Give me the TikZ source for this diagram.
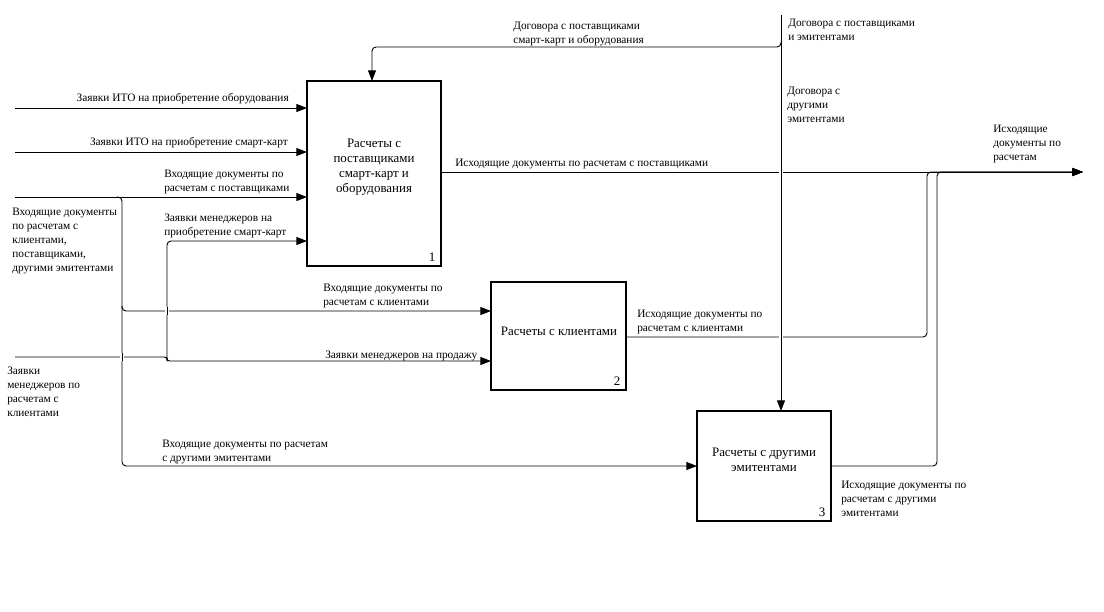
\documentclass[tikz,border=0pt]{standalone}
\usepackage{fontspec}
\setmainfont{Liberation Serif}
\usetikzlibrary{arrows.meta}
\begin{document}
\begin{tikzpicture}[x=0.75pt,y=-0.75pt,
  conn/.style={line width=0.7pt},
  arr/.style={conn,-{Triangle[length=8pt,width=6pt]}},
  bridge/.style={conn,preaction={draw=white,line width=3.5pt}},
  box/.style={draw,line width=1.8pt,inner sep=0,outer sep=0,fill=white},
  lbl/.style={font=\fontsize{8.5}{10.5}\selectfont,inner sep=0,align=left},
  btxt/.style={font=\fontsize{9.7}{11.25}\selectfont,inner sep=0,align=center},
  num/.style={font=\fontsize{9.7}{11}\selectfont,inner sep=0},
  rc/.style={rounded corners=3pt}]
\useasboundingbox[fill=white] (0,0) rectangle (1104,611);

% boxes (geometry)
\node[box,minimum width=100.5pt,minimum height=138.75pt] (b1) at (374,173.5) {};
\node[box,minimum width=101.25pt,minimum height=81pt] (b2) at (558.5,336) {};
\node[box,minimum width=100.5pt,minimum height=82.5pt] (b3) at (764,466) {};

% coordinates
\coordinate (i1) at (15,108);
\coordinate (i2) at (15,152);
\coordinate (i3) at (15,197);
\coordinate (i4) at (15,357);
\coordinate (jA) at (122,197);
\coordinate (jB) at (122,311);
\coordinate (jC) at (122,466);
\coordinate (jD) at (167,361);
\coordinate (jE) at (167,241);
\coordinate (c0) at (781,15);
\coordinate (c1) at (781,47);
\coordinate (c2) at (372,47);
\coordinate (o1) at (927,337);
\coordinate (o2) at (937,466);
\coordinate (out) at (1083,172);

% inputs
\draw[arr] (i1) -- (i1 -| b1.west);
\draw[arr] (i2) -- (i2 -| b1.west);
\draw[arr] (i3) -- (i3 -| b1.west);
\draw[arr,rc] ([xshift=-4pt]jA) -- (jA) -- (jC) -- (jC -| b3.west);
\draw[arr,rc] ([yshift=4pt]jB) -- (jB) -- (jB -| b2.west);
\draw[arr,rounded corners=2pt] (i4) -- (jD |- i4) -- (jD) -- (jD -| b2.west);
\draw[arr,rc] (jD) -- (jE) -- (jE -| b1.west);

% outputs
\draw[arr] (b1.east |- out) -- (out);
\draw[arr,rc] (b2.east |- o1) -- (o1) -- (o1 |- out) -- (out);
\draw[arr,rc] (b3.east |- o2) -- (o2) -- (o2 |- out) -- (out);

% controls
\draw[arr] (c0) -- (c0 |- b3.north);
\draw[arr,rc] ([yshift=4pt]c1) -- (c1) -- (c2) -- (c2 |- b1.north);

% crossings
\draw[bridge] ([yshift=3pt]jA |- i4) -- ([yshift=-3pt]jA |- i4);
\draw[bridge] ([yshift=3pt]jD |- jB) -- ([yshift=-3pt]jD |- jB);
\draw[bridge] ([yshift=3pt]c0 |- out) -- ([yshift=-3pt]c0 |- out);
\draw[bridge] ([yshift=3pt]c0 |- o1) -- ([yshift=-3pt]c0 |- o1);

% boxes redrawn on top
\node[box,minimum width=100.5pt,minimum height=138.75pt,fill=none] at (b1) {};
\node[box,minimum width=101.25pt,minimum height=81pt,fill=none] at (b2) {};
\node[box,minimum width=100.5pt,minimum height=82.5pt,fill=none] at (b3) {};

% box texts
\node[btxt] (bt1) at (374,167.5) {Расчеты с\\поставщиками\\смарт-карт и\\оборудования};
\node[btxt] (bt2) at (559,331) {Расчеты с клиентами};
\node[btxt] (bt3) at (764,459.5) {Расчеты с другими\\эмитентами};
\node[num,anchor=south east] (n1) at ([shift={(-4pt,3pt)}]b1.south east) {1};
\node[num,anchor=south east] (n2) at ([shift={(-4pt,3pt)}]b2.south east) {2};
\node[num,anchor=south east] (n3) at ([shift={(-4pt,3pt)}]b3.south east) {3};

% labels
\node[lbl,anchor=east] (t1) at (289,99) {Заявки ИТО на приобретение оборудования};
\node[lbl,anchor=east] (t2) at (288,143) {Заявки ИТО на приобретение смарт-карт};
\node[lbl,anchor=north west] (t3) at (164,170) {Входящие документы по\\расчетам с поставщиками};
\node[lbl,anchor=north west] (t4) at (12,208) {Входящие документы\\по расчетам с\\клиентами,\\поставщиками,\\другими эмитентами};
\node[lbl,anchor=north west] (t5) at (164,214) {Заявки менеджеров на\\приобретение смарт-карт};
\node[lbl,anchor=north west] (t6) at (323,284) {Входящие документы по\\расчетам с клиентами};
\node[lbl,anchor=west] (t7) at (325,356) {Заявки менеджеров на продажу};
\node[lbl,anchor=north west] (t8) at (7,367) {Заявки\\менеджеров по\\расчетам с\\клиентами};
\node[lbl,anchor=north west] (t9) at (162,440) {Входящие документы по расчетам\\с другими эмитентами};
\node[lbl,anchor=north west] (t10) at (513,22) {Договора с поставщиками\\смарт-карт и оборудования};
\node[lbl,anchor=north west] (t11) at (788,19) {Договора с поставщиками\\и эмитентами};
\node[lbl,anchor=north west] (t12) at (787,87) {Договора с\\другими\\эмитентами};
\node[lbl,anchor=north west] (t13) at (993,125) {Исходящие\\документы по\\расчетам};
\node[lbl,anchor=west] (t14) at (455,164) {Исходящие документы по расчетам с поставщиками};
\node[lbl,anchor=north west] (t15) at (637,310) {Исходящие документы по\\расчетам с клиентами};
\node[lbl,anchor=north west] (t16) at (841,481) {Исходящие документы по\\расчетам с другими\\эмитентами};
\end{tikzpicture}
\end{document}
